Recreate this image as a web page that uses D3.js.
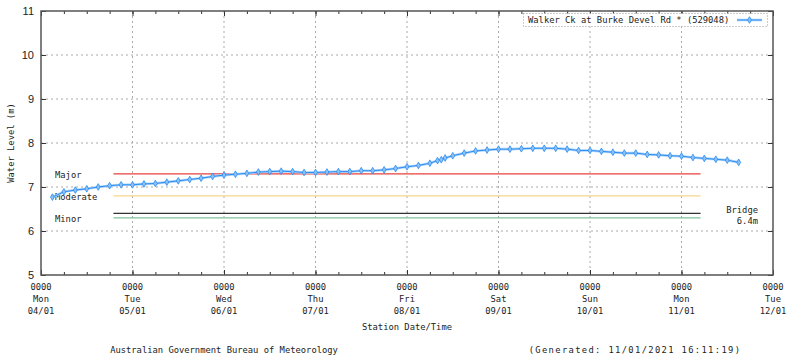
<!DOCTYPE html>
<html><head><meta charset="utf-8">
<script src="https://cdn.jsdelivr.net/npm/d3@7"></script>
<style>
body{margin:0;background:#fff;}
svg text{font-family:"DejaVu Sans Mono","Liberation Mono",monospace;font-size:8.8px;fill:#222;}
</style></head>
<body><svg id="c" width="800" height="358"></svg>
<script>
const seriesName = "Walker Ck at Burke Devel Rd * (529048)";
const times = ["2021-01-04T03:00","2021-01-04T06:00","2021-01-04T09:00","2021-01-04T12:00","2021-01-04T15:00","2021-01-04T18:00","2021-01-04T21:00",
"2021-01-05T00:00","2021-01-05T03:00","2021-01-05T06:00","2021-01-05T09:00","2021-01-05T12:00","2021-01-05T15:00","2021-01-05T18:00","2021-01-05T21:00",
"2021-01-06T00:00","2021-01-06T03:00","2021-01-06T06:00","2021-01-06T09:00","2021-01-06T12:00","2021-01-06T15:00","2021-01-06T18:00","2021-01-06T21:00",
"2021-01-07T00:00","2021-01-07T03:00","2021-01-07T06:00","2021-01-07T09:00","2021-01-07T12:00","2021-01-07T15:00","2021-01-07T18:00","2021-01-07T21:00",
"2021-01-08T00:00","2021-01-08T03:00","2021-01-08T06:00","2021-01-08T08:00","2021-01-08T09:00","2021-01-08T10:00","2021-01-08T12:00","2021-01-08T15:00","2021-01-08T18:00","2021-01-08T21:00",
"2021-01-09T00:00","2021-01-09T03:00","2021-01-09T06:00","2021-01-09T09:00","2021-01-09T12:00","2021-01-09T15:00","2021-01-09T18:00","2021-01-09T21:00",
"2021-01-10T00:00","2021-01-10T03:00","2021-01-10T06:00","2021-01-10T09:00","2021-01-10T12:00","2021-01-10T15:00","2021-01-10T18:00","2021-01-10T21:00",
"2021-01-11T00:00","2021-01-11T03:00","2021-01-11T06:00","2021-01-11T09:00","2021-01-11T12:00","2021-01-11T15:00"];
const levels = [6.77,6.89,6.93,6.96,7.00,7.03,7.05,
7.05,7.07,7.08,7.11,7.14,7.17,7.20,7.24,
7.27,7.29,7.31,7.34,7.35,7.36,7.35,7.33,
7.33,7.34,7.35,7.35,7.37,7.37,7.39,7.42,
7.46,7.49,7.54,7.60,7.62,7.66,7.71,7.77,7.82,7.84,
7.86,7.86,7.87,7.88,7.88,7.88,7.86,7.83,
7.83,7.81,7.79,7.77,7.77,7.74,7.73,7.71,
7.70,7.67,7.65,7.63,7.61,7.56];
const thresholdNames = ["Major","Moderate","Bridge","Minor"];
const thresholdLevels = [7.3,6.8,6.4,6.3];
const thresholdColors = ["#e8413c","#f7d58c","#333333","#7cc499"];
const thresholdStart = "2021-01-04T19:00";
const thresholdEnd = "2021-01-11T05:00";
const dayTicks = ["2021-01-04","2021-01-05","2021-01-06","2021-01-07","2021-01-08","2021-01-09","2021-01-10","2021-01-11","2021-01-12"];
const dayNames = ["Mon","Tue","Wed","Thu","Fri","Sat","Sun","Mon","Tue"];
const dayDates = ["04/01","05/01","06/01","07/01","08/01","09/01","10/01","11/01","12/01"];
const yTicks = [5,6,7,8,9,10,11];

const parse = d3.utcParse("%Y-%m-%dT%H:%M");
const parseDay = d3.utcParse("%Y-%m-%d");
const svg = d3.select("#c");
const L=41,R=773,T=11,B=275;
const x = d3.scaleUtc().domain([parseDay(dayTicks[0]), parseDay(dayTicks[dayTicks.length-1])]).range([L,R]);
const y = d3.scaleLinear().domain([5,11]).range([B,T]);

// grid
const g = svg.append("g");
dayTicks.slice(1,-1).forEach(d=>{
  g.append("line").attr("x1",x(parseDay(d))).attr("x2",x(parseDay(d))).attr("y1",T).attr("y2",B)
   .attr("stroke","#aaa").attr("stroke-dasharray","2,3");
});
yTicks.slice(1,-1).forEach(v=>{
  g.append("line").attr("x1",L).attr("x2",R).attr("y1",y(v)).attr("y2",y(v))
   .attr("stroke","#aaa").attr("stroke-dasharray","2,3");
});

// axes (inward ticks, mirrored)
const sixH = d3.utcHour.every(6).range(x.domain()[0], x.domain()[1]);
const bottomAxis = d3.axisBottom(x).tickValues(sixH).tickSize(-3).tickFormat("");
const topAxis = d3.axisTop(x).tickValues(sixH).tickSize(-3).tickFormat("");
svg.append("g").attr("transform",`translate(0,${B})`).call(bottomAxis).call(a=>a.select(".domain").remove());
svg.append("g").attr("transform",`translate(0,${T})`).call(topAxis).call(a=>a.select(".domain").remove());
const dayAxisB = d3.axisBottom(x).tickValues(dayTicks.map(parseDay)).tickSize(-5).tickFormat("");
svg.append("g").attr("transform",`translate(0,${B})`).call(dayAxisB).call(a=>a.select(".domain").remove());
const dayAxisT = d3.axisTop(x).tickValues(dayTicks.map(parseDay)).tickSize(-5).tickFormat("");
svg.append("g").attr("transform",`translate(0,${T})`).call(dayAxisT).call(a=>a.select(".domain").remove());
const leftAxis = d3.axisLeft(y).tickValues(yTicks).tickSize(-5).tickPadding(7).tickFormat(d3.format("d"));
const la = svg.append("g").attr("transform",`translate(${L},0)`).call(leftAxis);
la.select(".domain").remove();
la.selectAll("text").style("font-family","'Liberation Sans',Arial,sans-serif").style("font-size","11px").attr("fill","#222");
const rightAxis = d3.axisRight(y).tickValues(yTicks).tickSize(-5).tickFormat("");
svg.append("g").attr("transform",`translate(${R},0)`).call(rightAxis).call(a=>a.select(".domain").remove());
svg.selectAll(".tick line").attr("stroke","#333");

// frame
svg.append("rect").attr("x",L).attr("y",T).attr("width",R-L).attr("height",B-T)
  .attr("fill","none").attr("stroke","#555").attr("stroke-width",1.5);

// x labels
const xl = svg.append("g");
dayTicks.forEach((d,i)=>{
  const xx = x(parseDay(d));
  xl.append("text").attr("x",xx).attr("y",290).attr("text-anchor","middle").text("0000");
  xl.append("text").attr("x",xx).attr("y",302).attr("text-anchor","middle").text(dayNames[i]);
  xl.append("text").attr("x",xx).attr("y",314).attr("text-anchor","middle").text(dayDates[i]);
});
svg.append("text").attr("x",(L+R)/2).attr("y",330).attr("text-anchor","middle").text("Station Date/Time");
svg.append("text").attr("transform",`translate(14,${(T+B)/2}) rotate(-90)`).attr("text-anchor","middle").text("Water Level (m)");
svg.append("text").attr("x",224).attr("y",353).attr("text-anchor","middle").text("Australian Government Bureau of Meteorology");
svg.append("text").attr("x",635).attr("y",353).attr("text-anchor","middle").style("letter-spacing","1.35px").text("(Generated: 11/01/2021 16:11:19)");

// thresholds
thresholdNames.forEach((n,i)=>{
  svg.append("line").attr("x1",x(parse(thresholdStart))).attr("x2",x(parse(thresholdEnd)))
    .attr("y1",y(thresholdLevels[i])).attr("y2",y(thresholdLevels[i]))
    .attr("stroke",thresholdColors[i]).attr("stroke-width",1.3);
});
const labY = {Major:177.5, Moderate:199.5, Minor:222};
["Major","Moderate","Minor"].forEach(n=>{
  svg.append("text").attr("x",55).attr("y",labY[n]).text(n);
});
svg.append("text").attr("x",758).attr("y",213).attr("text-anchor","end").text("Bridge");
svg.append("text").attr("x",758).attr("y",223.8).attr("text-anchor","end").text(thresholdLevels[2]+"m");

// series
const pts = times.map((t,i)=>({t:parse(t),v:levels[i]}));
const line = d3.line().x(d=>x(d.t)).y(d=>y(d.v));
svg.append("path").datum(pts).attr("d",line).attr("fill","none").attr("stroke","#acd3fb").attr("stroke-width",2.6);
svg.append("path").datum(pts).attr("d",line).attr("fill","none").attr("stroke","#2a8cf0").attr("stroke-width",1);
const sym = d3.symbol().type(d3.symbolDiamond).size(13);
svg.selectAll(".pt").data(pts).enter().append("path").attr("class","pt")
  .attr("transform",d=>`translate(${x(d.t)},${y(d.v)})`).attr("d",sym)
  .attr("fill","#8cc2f8").attr("stroke","#2a8cf0").attr("stroke-width",0.8);

// legend
svg.append("rect").attr("x",523.5).attr("y",13.5).attr("width",244).attr("height",13)
  .attr("fill","#fff").attr("stroke","#999").attr("stroke-dasharray","1,2");
svg.append("text").attr("x",528).attr("y",23).text(seriesName);
svg.append("line").attr("x1",737).attr("x2",762).attr("y1",20).attr("y2",20).attr("stroke","#acd3fb").attr("stroke-width",2.6);
svg.append("line").attr("x1",737).attr("x2",762).attr("y1",20).attr("y2",20).attr("stroke","#2a8cf0").attr("stroke-width",1);
svg.append("path").attr("transform","translate(749.5,20)").attr("d",sym).attr("fill","#8cc2f8").attr("stroke","#2a8cf0").attr("stroke-width",0.8);
</script></body></html>
